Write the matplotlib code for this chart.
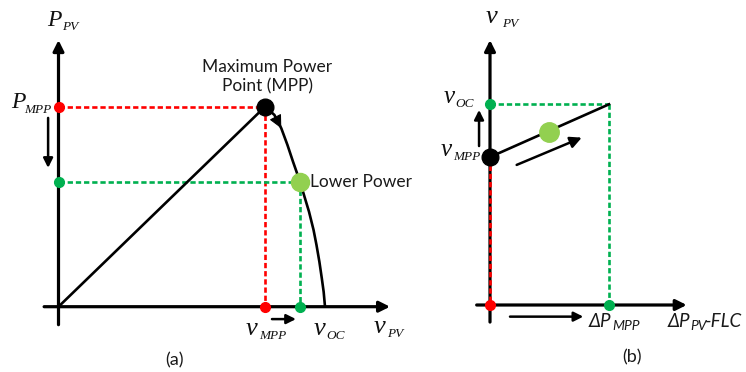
import matplotlib.pyplot as plt
import numpy as np

W, H = 746, 372
fig = plt.figure(figsize=(W / 100, H / 100), dpi=100)

# ---- panel (a): P-v curve (v normalised to v_OC, P normalised to P_MPP)
v_curve = [0.0, 0.775, 0.810, 0.836, 0.859, 0.880, 0.907, 0.921, 0.940,
           0.957, 0.968, 0.979, 0.988, 0.995, 1.0]
p_curve = [0.0, 1.0, 0.959, 0.892, 0.809, 0.725, 0.622, 0.559, 0.475,
           0.384, 0.309, 0.224, 0.142, 0.074, 0.0]
v_mpp, p_mpp = 0.775, 1.0
v_low, p_low = 0.907, 0.622

# ---- panel (b): v_PV vs dP_PV-FLC
d_line = [0.0, 1.0]
v_line = [0.737, 1.0]
d_mpp = 1.0
v_oc_b = 1.0
v_mpp_b = 0.737
d_dot, v_dot = 0.496, 0.863

RED = '#ff0000'
GREEN = '#00b050'
LGREEN = '#92d050'
DASH = (0, (2.0, 1.1))
SERIF = dict(family='Liberation Serif', style='italic', color='#111111')
SANS = 'Lato'
TXT = '#1a1a1a'


def arrow(ax, a, b, lw=2.0, ms=16, style='-|>'):
    ax.annotate('', xy=b, xytext=a,
                arrowprops=dict(arrowstyle=style, color='k', lw=lw,
                                mutation_scale=ms, shrinkA=0, shrinkB=0))


def label(x, y, main, sub, size=16, subsize=9.5, dx=0, dy=4):
    # pixel coordinates, baseline aligned
    fig.text(x / W, 1 - y / H, main, fontsize=size, va='baseline', **SERIF)
    fig.text((x + dx) / W, 1 - (y + dy) / H, sub, fontsize=subsize, va='baseline', **SERIF)


# panel a axes: pixel mapping px = 58.5 + v*266.5 ; py = 306.7 - P*200
axa = fig.add_axes([0, 0, 400 / W, 1])
axa.set_xlim(-58.5 / 266.5, (400 - 58.5) / 266.5)
axa.set_ylim((306.7 - 372) / 200, 306.7 / 200)
axa.axis('off')

arrow(axa, (-0.054, 0), (1.244, 0), lw=2.3)
arrow(axa, (0, -0.09), (0, 1.333), lw=2.3)

axa.plot([0, v_mpp], [p_mpp, p_mpp], color=RED, lw=1.9, ls=DASH)
axa.plot([v_mpp, v_mpp], [p_mpp, 0], color=RED, lw=1.9, ls=DASH)
axa.plot([0, v_low], [p_low, p_low], color=GREEN, lw=1.9, ls=DASH)
axa.plot([v_low, v_low], [p_low, 0], color=GREEN, lw=1.9, ls=DASH)

axa.plot(v_curve, p_curve, color='k', lw=1.9, solid_capstyle='round',
         solid_joinstyle='round')
arrow(axa, (v_curve[2], p_curve[2]), (v_curve[3], p_curve[3]), lw=0.8,
      ms=18, style='-|>,head_length=0.45,head_width=0.22')

axa.plot([0, v_mpp], [p_mpp, 0], 'o', color=RED, ms=7, zorder=5)
axa.plot([0, v_low], [p_low, 0], 'o', color=GREEN, ms=7, zorder=5)
axa.plot(v_mpp, p_mpp, 'o', color='k', ms=12, zorder=6)
axa.plot(v_low, p_low, 'o', color=LGREEN, ms=13, zorder=6)

arrow(axa, (-0.039, 0.944), (-0.039, 0.694), lw=1.8, ms=14)
arrow(axa, (0.801, -0.062), (0.891, -0.062), lw=1.8, ms=14)

# panel b axes: px = 490 + d*119 ; py = 305 - v*200.7
axb = fig.add_axes([400 / W, 0, (W - 400) / W, 1])
axb.set_xlim(-90 / 119, (W - 490) / 119)
axb.set_ylim((305 - 372) / 200.7, 305 / 200.7)
axb.axis('off')

arrow(axb, (-0.112, 0), (1.653, 0), lw=2.3)
arrow(axb, (0, -0.085), (0, 1.320), lw=2.3)

axb.plot([0, d_mpp], [v_oc_b, v_oc_b], color=GREEN, lw=1.9, ls=DASH)
axb.plot([d_mpp, d_mpp], [v_oc_b, 0], color=GREEN, lw=1.9, ls=DASH)
axb.plot([0, 0], [v_mpp_b, 0], color=RED, lw=1.9, ls=DASH, zorder=3)
axb.plot(d_line, v_line, color='k', lw=1.9)

axb.plot(0, 0, 'o', color=RED, ms=7, zorder=5)
axb.plot([0, d_mpp], [v_oc_b, 0], 'o', color=GREEN, ms=7, zorder=5)
axb.plot(0, v_mpp_b, 'o', color='k', ms=12, zorder=6)
axb.plot(d_dot, v_dot, 'o', color=LGREEN, ms=14, zorder=6)

arrow(axb, (0.224, 0.698), (0.771, 0.834), lw=1.8, ms=17)
arrow(axb, (-0.092, 0.792), (-0.092, 0.972), lw=1.8, ms=14)
arrow(axb, (0.168, -0.058), (0.784, -0.058), lw=1.8, ms=14)

# ---- labels (pixel positions)
label(47, 26, 'P', 'PV', size=17, dx=15, dy=4)
label(11, 108, 'P', 'MPP', size=17, dx=13, dy=5)
label(246, 335, 'v', 'MPP', size=19, dx=13, dy=4)
label(314, 335, 'v', 'OC', size=19, dx=12, dy=4)
label(374, 333, 'v', 'PV', size=19, dx=13, dy=4)
label(486, 23, 'v', 'PV', size=19, dx=16, dy=4)
label(444, 103, 'v', 'OC', size=18, dx=11, dy=4)
label(441, 156, 'v', 'MPP', size=18, dx=12, dy=4)

fig.text(267.5 / W, 1 - 77 / H, 'Maximum Power\nPoint (MPP)', fontsize=12.5,
         family=SANS, ha='center', va='center', linespacing=1.25, color=TXT)
fig.text(310 / W, 1 - 182 / H, 'Lower Power', fontsize=12.5, family=SANS,
         va='center', color=TXT)

fig.text(589 / W, 1 - 327 / H, 'ΔP', fontsize=13.5, family=SANS, style='italic',
         va='baseline', color=TXT)
fig.text(612 / W, 1 - 330 / H, 'MPP', fontsize=10, family=SANS, style='italic',
         va='baseline', color=TXT)
fig.text(668 / W, 1 - 327 / H, 'ΔP', fontsize=13.5, family=SANS, style='italic',
         va='baseline', color=TXT)
fig.text(690 / W, 1 - 330 / H, 'PV', fontsize=10, family=SANS, style='italic',
         va='baseline', color=TXT)
fig.text(705 / W, 1 - 327 / H, '-FLC', fontsize=13.5, family=SANS, style='italic',
         va='baseline', color=TXT)

fig.text(175 / W, 1 - 360 / H, '(a)', fontsize=13, family=SANS, ha='center',
         va='center', color=TXT)
fig.text(632 / W, 1 - 357 / H, '(b)', fontsize=13, family=SANS, ha='center',
         va='center', color=TXT)

fig.savefig('out.png', dpi=100)
